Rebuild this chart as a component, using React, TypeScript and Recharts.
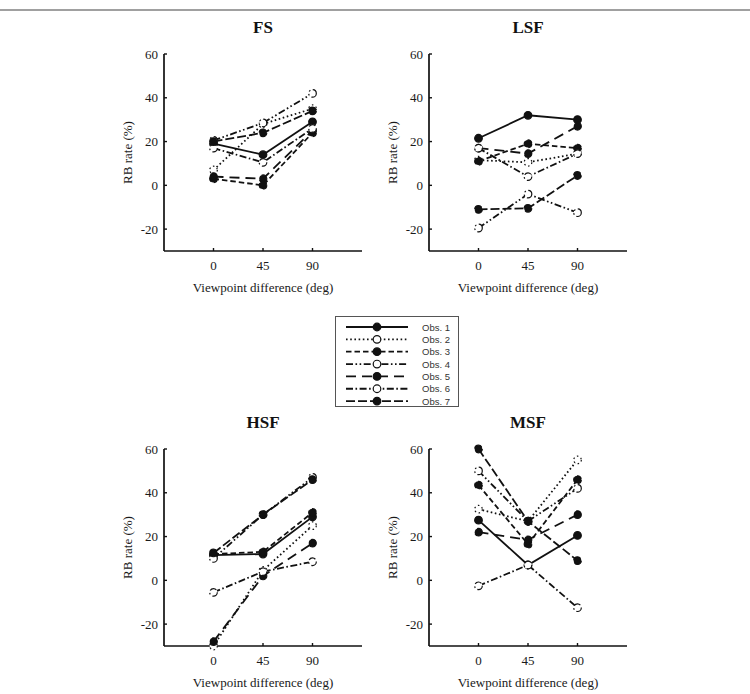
import { LineChart, Line, XAxis, YAxis } from 'recharts'

const viewpoints = [0, 45, 90]
const xTicks = [0, 45, 90]
const yTicks = [-20, 0, 20, 40, 60]
const observers = ['Obs. 1', 'Obs. 2', 'Obs. 3', 'Obs. 4', 'Obs. 5', 'Obs. 6', 'Obs. 7']

// RB rate (%) for each observer at 0 / 45 / 90 deg
const fsRates = [
  [19, 14, 29],
  [7, 28, 35],
  [3, 0, 24],
  [20.5, 28.5, 42],
  [4, 3, 25],
  [17, 10.5, 26],
  [20, 24, 34],
]

const lsfRates = [
  [21.5, 32, 30],
  [11.5, 10.5, 14.5],
  [11, 19, 17],
  [-19.5, -4, -12.5],
  [17, 14.5, 27],
  [17, 4, 14.5],
  [-11, -10.5, 4.5],
]

const hsfRates = [
  [11.5, 12, 29],
  [-30, 4.5, 25],
  [12, 13, 31],
  [10, 30, 47],
  [-28, 2, 17],
  [-5.5, 4, 8.5],
  [12.5, 30, 46],
]

const msfRates = [
  [27.5, 7, 20.5],
  [32.5, 27, 55],
  [43.5, 16.5, 46],
  [50, 27, 42],
  [22, 18.5, 30],
  [-2.5, 7, -12.5],
  [60, 27, 9],
]

// line look per observer
const dashes = [undefined, '1.6 2.6', '5.5 3', '7 2.5 1.6 2.5 1.6 2.5', '10 6', '7 2.5 1.6 2.5', '9 3']
const filled = [true, false, true, false, true, false, true]

const INK = '#111'
const serif = 'Liberation Serif'
const tickStyle = { fontFamily: serif, fontSize: 13, fill: '#1a1a1a' }

const dotFor = (s: number) => ({
  r: 3.8,
  fill: filled[s] ? INK : '#fff',
  stroke: INK,
  strokeWidth: 1.2,
})

interface PanelProps {
  title: string
  rates: number[][]
  left: number
  top: number
  height: number
  labelOffset: number
}

function Panel({ title, rates, left, top, height, labelOffset }: PanelProps) {
  const data = viewpoints.map((deg, i) => {
    const row: Record<string, number> = { deg }
    rates.forEach((r, s) => {
      row[`o${s}`] = r[i]
    })
    return row
  })

  return (
    <div style={{ position: 'absolute', left, top, width: 320, height }}>
      <div
        style={{
          position: 'absolute',
          left: 84,
          width: 198,
          top: 19,
          textAlign: 'center',
          fontFamily: serif,
          fontWeight: 'bold',
          fontSize: 17,
          lineHeight: '17px',
          color: '#111',
        }}
      >
        {title}
      </div>
      <LineChart width={320} height={height} data={data} margin={{ top: 54, right: 38, left: 40, bottom: 0 }}>
        <XAxis
          dataKey="deg"
          type="number"
          domain={[-45, 135]}
          ticks={xTicks}
          height={height - 54 - 197}
          axisLine={{ stroke: INK, strokeWidth: 1.7 }}
          tickLine={{ stroke: INK, strokeWidth: 1.4 }}
          tickSize={-3}
          tickMargin={13}
          tick={tickStyle}
          label={{
            value: 'Viewpoint difference (deg)',
            position: 'insideBottom',
            offset: labelOffset,
            fontFamily: serif,
            fontSize: 13,
            fill: '#1a1a1a',
          }}
        />
        <YAxis
          type="number"
          domain={[-30, 60]}
          ticks={yTicks}
          width={44}
          axisLine={{ stroke: INK, strokeWidth: 1.7 }}
          tickLine={{ stroke: INK, strokeWidth: 1.4 }}
          tickSize={-3}
          tickMargin={9}
          tick={tickStyle}
          label={{
            value: 'RB rate (%)',
            angle: -90,
            position: 'insideLeft',
            offset: 7,
            fontFamily: serif,
            fontSize: 13,
            fill: '#1a1a1a',
            style: { textAnchor: 'middle' },
          }}
        />
        {rates.map((_, s) => (
          <Line
            key={observers[s]}
            dataKey={`o${s}`}
            name={observers[s]}
            stroke={INK}
            strokeWidth={1.8}
            strokeDasharray={dashes[s]}
            dot={dotFor(s)}
            activeDot={false}
            isAnimationActive={false}
          />
        ))}
      </LineChart>
    </div>
  )
}

function ObsLegend() {
  return (
    <div style={{ position: 'absolute', left: 335, top: 316 }}>
      <svg width={125} height={92}>
        <rect x={0.5} y={0.5} width={123} height={90} fill="#fff" stroke="#555" strokeWidth={1} />
        {observers.map((name, s) => {
          const y = 11 + s * 12.35
          return (
            <g key={name}>
              <line x1={11} x2={73} y1={y} y2={y} stroke={INK} strokeWidth={1.8} strokeDasharray={dashes[s]} />
              <circle cx={42} cy={y} r={3.8} fill={filled[s] ? INK : '#fff'} stroke={INK} strokeWidth={1.2} />
              <text
                x={87}
                y={y}
                dominantBaseline="central"
                fontFamily="Liberation Sans"
                fontSize={9.5}
                fill="#333"
              >
                {name}
              </text>
            </g>
          )
        })}
      </svg>
    </div>
  )
}

export default function App() {
  return (
    <div style={{ position: 'absolute', left: 0, top: 0, width: 750, height: 694, background: '#fff', overflow: 'hidden' }}>
      <div style={{ position: 'absolute', left: 0, top: 9, width: 750, height: 2, background: '#a0a0a0' }} />
      <Panel title="FS" rates={fsRates} left={80} top={0} height={300} labelOffset={8} />
      <Panel title="LSF" rates={lsfRates} left={345} top={0} height={300} labelOffset={8} />
      <Panel title="HSF" rates={hsfRates} left={80} top={395} height={299} labelOffset={7} />
      <Panel title="MSF" rates={msfRates} left={345} top={395} height={299} labelOffset={7} />
      <ObsLegend />
    </div>
  )
}
